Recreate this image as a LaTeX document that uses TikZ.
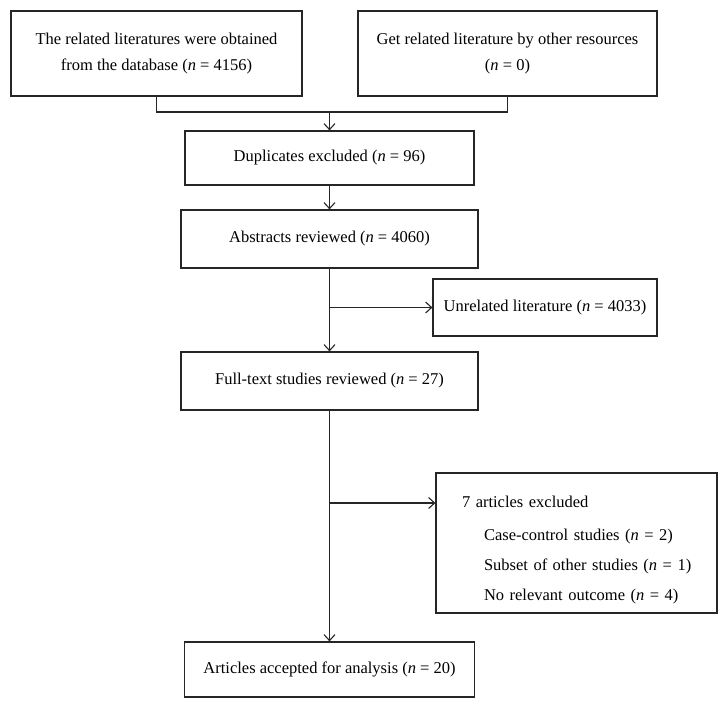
\documentclass[tikz,border=0pt]{standalone}
\usepackage{fontspec}
\setmainfont{Liberation Serif}
\usetikzlibrary{arrows.meta}
\newcommand{\nn}{\textit{n}}

\begin{document}
\begin{tikzpicture}[
  x=1pt, y=-1pt,
  box/.style={draw=black!85, line width=1.2pt, align=center, inner sep=0pt, font=\fontsize{16.5}{26}\selectfont},
  link/.style={line width=1.1pt, black!85},
  arrow/.style={link, -{Straight Barb[length=6pt,width=11pt]}}
]
\useasboundingbox (0,0) rectangle (728,707);

% Sources
\node[box, minimum width=291, minimum height=85] (database) at (156.5, 53.5) {%
The related literatures were obtained\\from the database (\nn{} = 4156)};
\node[box, minimum width=299, minimum height=85] (resources) at (507.5, 53.5) {%
Get related literature by other resources\\(\nn{} = 0)};

% Screening
\node[box, minimum width=289, minimum height=54] (duplicates) at (329.5, 158) {Duplicates excluded (\nn{} = 96)};
\node[box, minimum width=297, minimum height=58] (abstracts) at (329.5, 239) {Abstracts reviewed (\nn{} = 4060)};
\node[box, minimum width=224, minimum height=57] (unrelated) at (545, 307.5) {Unrelated literature (\nn{} = 4033)};
\node[box, minimum width=297, minimum height=58] (fulltext) at (329.5, 381) {Full-text studies reviewed (\nn{} = 27)};

% Exclusions
\node[box, align=left, text width=229, inner xsep=26pt, minimum height=140,
  font=\fontsize{16.5}{30}\selectfont] (excluded) at (576.5, 543) {%
\mbox{\rule{0pt}{26pt}7 articles excluded}\\[3pt]
\mbox{\hspace*{22pt}Case-control studies (\nn{} = 2)}\\
\mbox{\hspace*{22pt}Subset of other studies (\nn{} = 1)}\\
\mbox{\hspace*{22pt}No relevant outcome (\nn{} = 4)}};

% Result
\node[box, minimum width=290, minimum height=55] (accepted) at (329.5, 669.5) {Articles accepted for analysis (\nn{} = 20)};

% Edges
\coordinate (join) at (duplicates.north |- 0,112);
\draw[link] (database.south) |- (join) -| (resources.south);
\draw[arrow] (join) to (duplicates.north);
\draw[arrow] (duplicates.south) to (abstracts.north);
\draw[arrow] (abstracts.south) to (fulltext.north);
\coordinate (split1) at (abstracts.south |- unrelated.west);
\draw[arrow] (split1) to (unrelated.west);
\draw[arrow] (fulltext.south) to (accepted.north);
\coordinate (split2) at (fulltext.south |- 0,503);
\draw[arrow] (split2) to (split2 -| excluded.west);
\end{tikzpicture}
\end{document}
